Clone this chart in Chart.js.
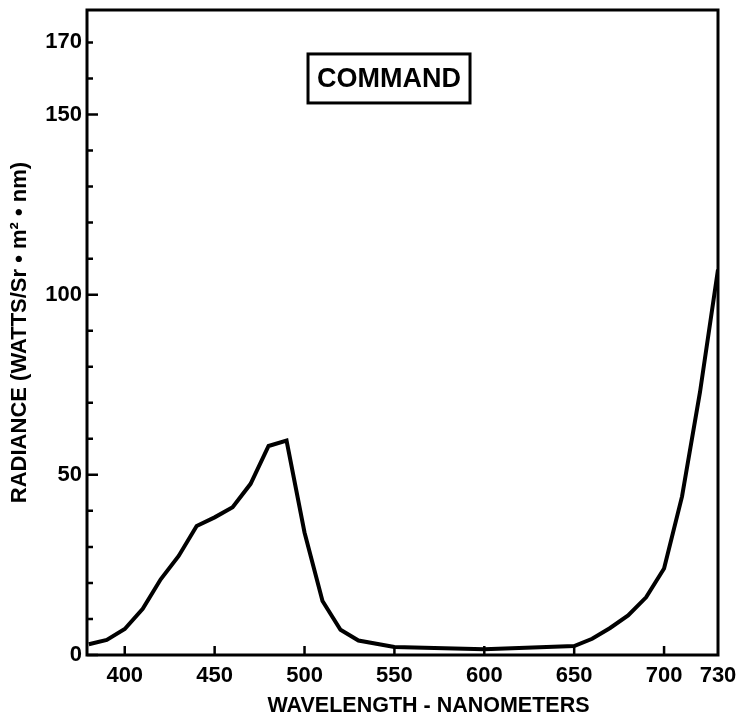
<!DOCTYPE html>
<html>
<head>
<meta charset="utf-8">
<script src="https://cdn.jsdelivr.net/npm/chart.js@4.4.1/dist/chart.umd.min.js"></script>
<style>
  html, body { margin: 0; padding: 0; background: #fff; }
</style>
</head>
<body>
<canvas id="radianceChart" width="738" height="719"></canvas>
<script>
// values (nm, W/Sr·m²·nm)
var wavelengths = [380, 390, 400, 410, 420, 430, 440, 450, 460, 470, 480, 490, 500, 510, 520, 530, 550, 600, 650, 660, 670, 680, 690, 700, 710, 720, 730];
var radiance = [3, 4.2, 7.2, 12.8, 21, 27.5, 35.8, 38.2, 41, 47.5, 58, 59.5, 34, 15, 7, 4, 2.2, 1.6, 2.5, 4.5, 7.5, 11, 16, 24, 44, 73, 107];

var xTickValues = [400, 450, 500, 550, 600, 650, 700, 730];
var yTickValues = [0, 10, 20, 30, 40, 50, 60, 70, 80, 90, 100, 110, 120, 130, 140, 150, 160, 170];
var yLabelValues = [0, 50, 100, 150, 170];

var chartLabel = "COMMAND";
var xTitle = "WAVELENGTH - NANOMETERS";
var yTitle = "RADIANCE (WATTS/Sr \u2022 m\u00B2 \u2022 nm)";

var fontName = "'Liberation Sans', Arial, sans-serif";

var points = [];
for (var i = 0; i < wavelengths.length; i++) {
  points.push({ x: wavelengths[i], y: radiance[i] });
}

// keep chart.js from adding label overflow padding round the plot
function noPadding(scale) {
  scale.paddingTop = 0;
  scale.paddingBottom = 0;
  scale.paddingLeft = 0;
  scale.paddingRight = 0;
}

// frame, inward tick marks, the boxed label and the x title
var framePlugin = {
  id: "frame",
  afterDraw: function (chart) {
    var ctx = chart.ctx;
    var area = chart.chartArea;
    var xs = chart.scales.x;
    var ys = chart.scales.y;
    ctx.save();
    ctx.strokeStyle = "#000";
    ctx.fillStyle = "#000";
    ctx.lineWidth = 3;
    ctx.strokeRect(area.left, area.top, area.right - area.left, area.bottom - area.top);

    ctx.lineWidth = 2.5;
    ctx.beginPath();
    yTickValues.forEach(function (v) {
      var py = ys.getPixelForValue(v);
      var len = (v % 50 === 0) ? 11 : 6;
      ctx.moveTo(area.left, py);
      ctx.lineTo(area.left + len, py);
    });
    xTickValues.forEach(function (v) {
      if (v >= xs.max) return;
      var px = xs.getPixelForValue(v);
      ctx.moveTo(px, area.bottom);
      ctx.lineTo(px, area.bottom - 9);
    });
    ctx.stroke();

    var cx = xs.getPixelForValue(547);
    var cy = ys.getPixelForValue(160);
    ctx.font = "bold 27px " + fontName;
    ctx.textAlign = "center";
    ctx.textBaseline = "middle";
    ctx.fillText(chartLabel, cx, cy + 1);
    ctx.lineWidth = 3;
    ctx.strokeRect(cx - 81, cy - 24.5, 162, 49);

    ctx.font = "bold 21.5px " + fontName;
    ctx.fillText(xTitle, (area.left + area.right) / 2 + 26, chart.height - 13);
    ctx.restore();
  }
};

var ctx = document.getElementById("radianceChart");
var myChart = new Chart(ctx, {
  type: "line",
  data: {
    datasets: [
      {
        label: chartLabel,
        data: points,
        borderColor: "#000",
        borderWidth: 4,
        pointRadius: 0,
        tension: 0,
        fill: false,
      },
    ],
  },
  options: {
    responsive: false,
    animation: false,
    layout: { padding: { top: 10, right: 20, left: 0, bottom: 0 } },
    plugins: {
      legend: { display: false },
      tooltip: { enabled: false },
    },
    scales: {
      x: {
        type: "linear",
        min: 379,
        max: 730,
        afterBuildTicks: function (scale) {
          scale.ticks = xTickValues.map(function (v) { return { value: v }; });
        },
        afterFit: function (scale) {
          scale.height = 64;
          noPadding(scale);
        },
        grid: { display: false, drawTicks: false },
        border: { display: false },
        ticks: {
          autoSkip: false,
          maxRotation: 0,
          padding: 8,
          color: "#000",
          font: { family: fontName, size: 22, weight: "bold" },
          callback: function (v) { return v; },
        },
      },
      y: {
        type: "linear",
        min: 0,
        max: 179,
        afterBuildTicks: function (scale) {
          scale.ticks = yTickValues.map(function (v) { return { value: v }; });
        },
        afterFit: function (scale) {
          scale.width = 87;
          noPadding(scale);
        },
        grid: { display: false, drawTicks: false },
        border: { display: false },
        ticks: {
          autoSkip: false,
          padding: 5,
          color: "#000",
          font: { family: fontName, size: 22, weight: "bold" },
          callback: function (v) { return yLabelValues.indexOf(v) >= 0 ? v : ""; },
        },
        title: {
          display: true,
          text: yTitle,
          color: "#000",
          font: { family: fontName, size: 22, weight: "bold" },
          padding: { top: 7, bottom: 0 },
        },
      },
    },
  },
  plugins: [framePlugin],
});
</script>
</body>
</html>
